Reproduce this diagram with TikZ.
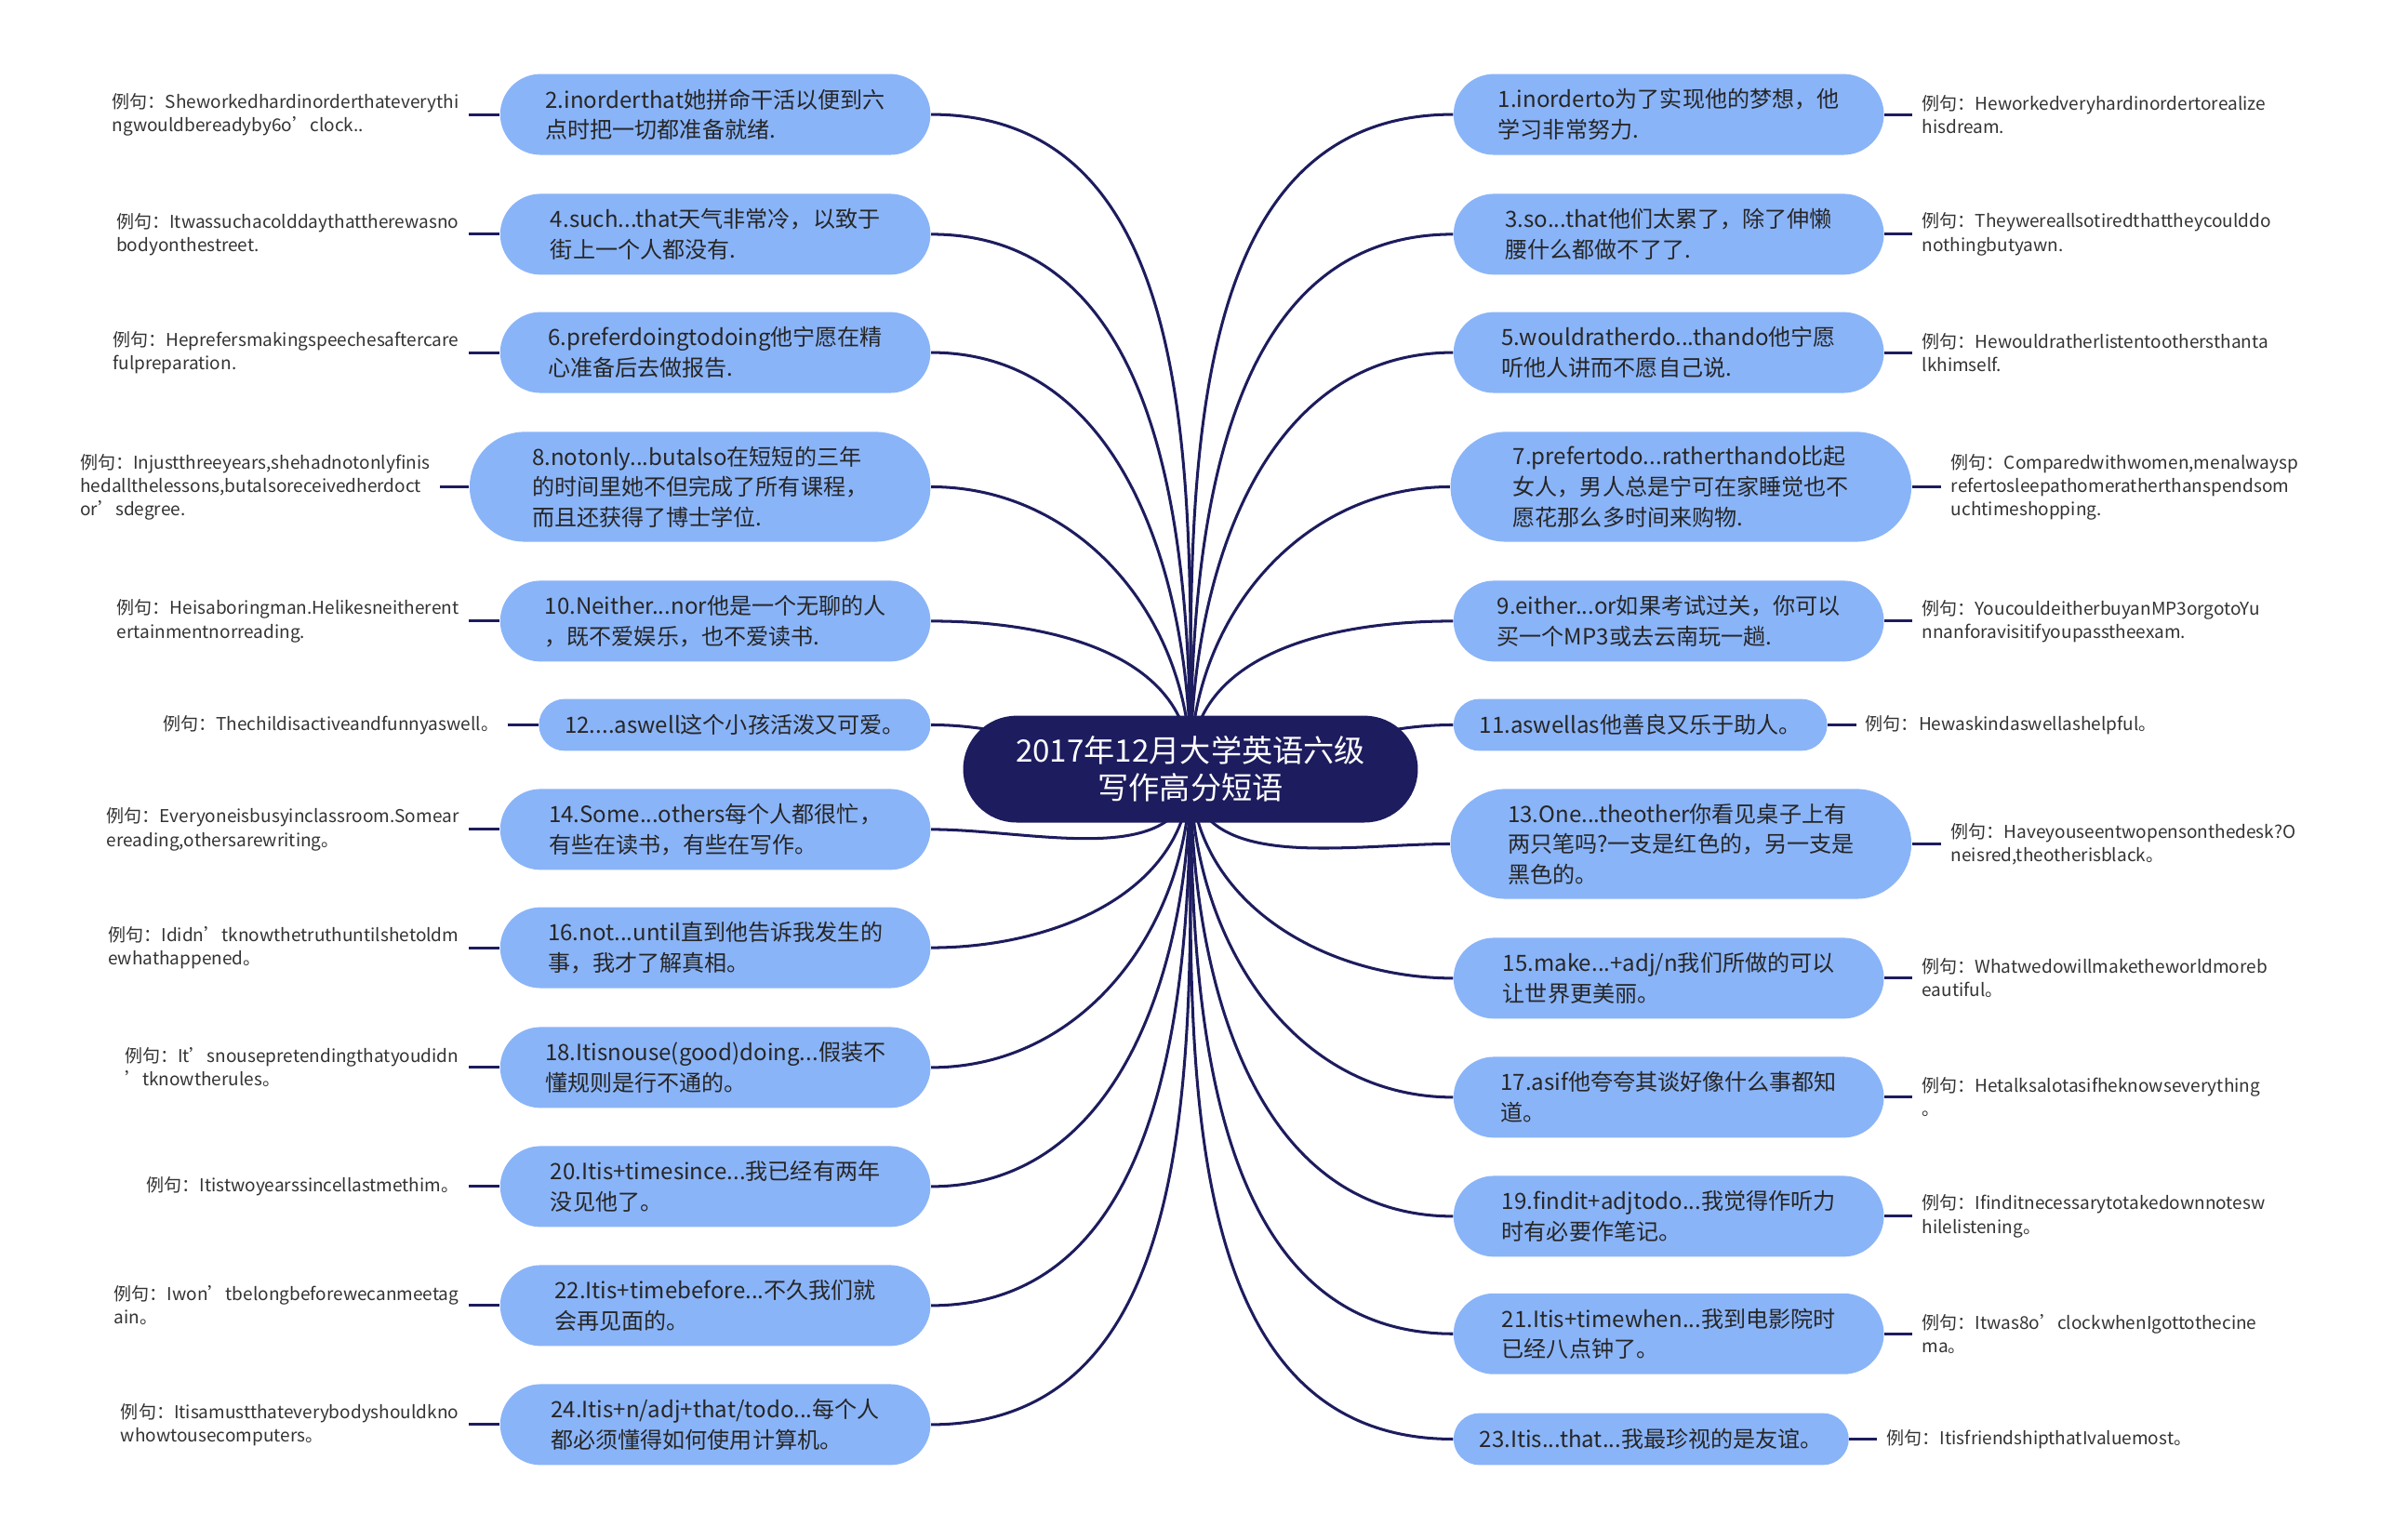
\documentclass[tikz,border=0pt]{standalone}
\usepackage{fontspec}
\setmainfont{Noto Sans CJK SC}
\usetikzlibrary{backgrounds}
\definecolor{rootnavy}{HTML}{1D1C5E}
\definecolor{topicblue}{HTML}{8AB4F8}
\definecolor{egtext}{HTML}{333333}
\begin{document}
\begin{tikzpicture}[x=0.02cm, y=-0.02cm,
        root/.style={fill=rootnavy, text=white, align=center, minimum width=5.96cm, minimum height=1.4cm, rounded corners=0.7cm, font=\fontsize{11.5}{14}\selectfont},
        topic/.style={fill=topicblue, text=black!85, align=left, minimum width=5.64cm, minimum height=1.06cm, rounded corners=0.53cm, inner xsep=0.3cm, inner ysep=0.05cm, font=\fontsize{8.35}{11.3}\selectfont},
        topicbig/.style={topic, minimum width=6.04cm, minimum height=1.44cm, rounded corners=0.72cm},
        topicone/.style={topic, minimum width=0pt, minimum height=0.68cm, rounded corners=0.34cm, inner xsep=0.34cm},
        eg/.style={text=egtext, align=left, inner xsep=0.12cm, font=\fontsize{6.6}{8.7}\selectfont},
        link/.style={draw=rootnavy, line width=1.05pt}]
        \useasboundingbox (0,0) rectangle (1560,1009.1);

        \node[root] (root) at (780,504) {2017年12月大学英语六级\\写作高分短语};

        \node[topic, anchor=east] (n2) at (610,75) {2.inorderthat她拼命干活以便到六\\点时把一切都准备就绪.};
        \node[topic, anchor=east] (n4) at (610,153.5) {4.such...that天气非常冷，以致于\\街上一个人都没有.};
        \node[topic, anchor=east] (n6) at (610,231) {6.preferdoingtodoing他宁愿在精\\心准备后去做报告.};
        \node[topicbig, anchor=east] (n8) at (610,319) {8.notonly...butalso在短短的三年\\的时间里她不但完成了所有课程，\\而且还获得了博士学位.};
        \node[topic, anchor=east] (n10) at (610,407) {10.Neither...nor他是一个无聊的人\\，既不爱娱乐，也不爱读书.};
        \node[topicone, anchor=east] (n12) at (610,475) {12....aswell这个小孩活泼又可爱。};
        \node[topic, anchor=east] (n14) at (610,543.5) {14.Some...others每个人都很忙，\\有些在读书，有些在写作。};
        \node[topic, anchor=east] (n16) at (610,621) {16.not...until直到他告诉我发生的\\事，我才了解真相。};
        \node[topic, anchor=east] (n18) at (610,699.5) {18.Itisnouse(good)doing...假装不\\懂规则是行不通的。};
        \node[topic, anchor=east] (n20) at (610,777.5) {20.Itis+timesince...我已经有两年\\没见他了。};
        \node[topic, anchor=east] (n22) at (610,855.5) {22.Itis+timebefore...不久我们就\\会再见面的。};
        \node[topic, anchor=east] (n24) at (610,933.5) {24.Itis+n/adj+that/todo...每个人\\都必须懂得如何使用计算机。};

        \node[topic, anchor=west] (n1) at (952,75) {1.inorderto为了实现他的梦想，他\\学习非常努力.};
        \node[topic, anchor=west] (n3) at (952,153.5) {3.so...that他们太累了，除了伸懒\\腰什么都做不了了.};
        \node[topic, anchor=west] (n5) at (952,231) {5.wouldratherdo...thando他宁愿\\听他人讲而不愿自己说.};
        \node[topicbig, anchor=west] (n7) at (950,319) {7.prefertodo...ratherthando比起\\女人，男人总是宁可在家睡觉也不\\愿花那么多时间来购物.};
        \node[topic, anchor=west] (n9) at (952,407) {9.either...or如果考试过关，你可以\\买一个MP3或去云南玩一趟.};
        \node[topicone, anchor=west] (n11) at (952,475) {11.aswellas他善良又乐于助人。};
        \node[topicbig, anchor=west] (n13) at (950,553) {13.One...theother你看见桌子上有\\两只笔吗?一支是红色的，另一支是\\黑色的。};
        \node[topic, anchor=west] (n15) at (952,641) {15.make...+adj/n我们所做的可以\\让世界更美丽。};
        \node[topic, anchor=west] (n17) at (952,719) {17.asif他夸夸其谈好像什么事都知\\道。};
        \node[topic, anchor=west] (n19) at (952,797) {19.findit+adjtodo...我觉得作听力\\时有必要作笔记。};
        \node[topic, anchor=west] (n21) at (952,874) {21.Itis+timewhen...我到电影院时\\已经八点钟了。};
        \node[topicone, anchor=west] (n23) at (952,943) {23.Itis...that...我最珍视的是友谊。};

        \node[eg, anchor=east] (e2) at (307,75) {例句：Sheworkedhardinorderthateverythi\\ngwouldbereadyby6o’clock..};
        \node[eg, anchor=east] (e4) at (307,153.5) {例句：Itwassuchacolddaythattherewasno\\bodyonthestreet.};
        \node[eg, anchor=east] (e6) at (307,231) {例句：Heprefersmakingspeechesaftercare\\fulpreparation.};
        \node[eg, anchor=east] (e8) at (288,319) {例句：Injustthreeyears,shehadnotonlyfinis\\hedallthelessons,butalsoreceivedherdoct\\or’sdegree.};
        \node[eg, anchor=east] (e10) at (307,407) {例句：Heisaboringman.Helikesneitherent\\ertainmentnorreading.};
        \node[eg, anchor=east] (e12) at (333,475) {例句：Thechildisactiveandfunnyaswell。};
        \node[eg, anchor=east] (e14) at (307,543.5) {例句：Everyoneisbusyinclassroom.Somear\\ereading,othersarewriting。};
        \node[eg, anchor=east] (e16) at (307,621) {例句：Ididn’tknowthetruthuntilshetoldm\\ewhathappened。};
        \node[eg, anchor=east] (e18) at (307,699.5) {例句：It’snousepretendingthatyoudidn\\’tknowtherules。};
        \node[eg, anchor=east] (e20) at (307,777.5) {例句：Itistwoyearssincellastmethim。};
        \node[eg, anchor=east] (e22) at (307,855.5) {例句：Iwon’tbelongbeforewecanmeetag\\ain。};
        \node[eg, anchor=east] (e24) at (307,933.5) {例句：Itisamustthateverybodyshouldkno\\whowtousecomputers。};

        \node[eg, anchor=west] (e1) at (1253,75) {例句：Heworkedveryhardinordertorealize\\hisdream.};
        \node[eg, anchor=west] (e3) at (1253,153.5) {例句：Theywereallsotiredthattheycoulddo\\nothingbutyawn.};
        \node[eg, anchor=west] (e5) at (1253,231) {例句：Hewouldratherlistentoothersthanta\\lkhimself.};
        \node[eg, anchor=west] (e7) at (1272,319) {例句：Comparedwithwomen,menalwaysp\\refertosleepathomeratherthanspendsom\\uchtimeshopping.};
        \node[eg, anchor=west] (e9) at (1253,407) {例句：YoucouldeitherbuyanMP3orgotoYu\\nnanforavisitifyoupasstheexam.};
        \node[eg, anchor=west] (e11) at (1216,475) {例句：Hewaskindaswellashelpful。};
        \node[eg, anchor=west] (e13) at (1272,553) {例句：Haveyouseentwopensonthedesk?O\\neisred,theotherisblack。};
        \node[eg, anchor=west] (e15) at (1253,641) {例句：Whatwedowillmaketheworldmoreb\\eautiful。};
        \node[eg, anchor=west] (e17) at (1253,719) {例句：Hetalksalotasifheknowseverything\\。};
        \node[eg, anchor=west] (e19) at (1253,797) {例句：Ifinditnecessarytotakedownnotesw\\hilelistening。};
        \node[eg, anchor=west] (e21) at (1253,874) {例句：Itwas8o’clockwhenIgottothecine\\ma。};
        \node[eg, anchor=west] (e23) at (1230,943) {例句：ItisfriendshipthatIvaluemost。};

        \begin{scope}[on background layer]
            \draw[link] (root.center) to [out=90, in=0] (n2.east);
            \draw[link] (root.center) to [out=90, in=0] (n4.east);
            \draw[link] (root.center) to [out=90, in=0] (n6.east);
            \draw[link] (root.center) to [out=90, in=0] (n8.east);
            \draw[link] (root.center) to [out=90, in=0] (n10.east);
            \draw[link] (root.center) to [out=180, in=0] (n12.east);
            \draw[link] (root.center) to [out=-90, in=0] (n14.east);
            \draw[link] (root.center) to [out=-90, in=0] (n16.east);
            \draw[link] (root.center) to [out=-90, in=0] (n18.east);
            \draw[link] (root.center) to [out=-90, in=0] (n20.east);
            \draw[link] (root.center) to [out=-90, in=0] (n22.east);
            \draw[link] (root.center) to [out=-90, in=0] (n24.east);

            \draw[link] (root.center) to [out=90, in=180] (n1.west);
            \draw[link] (root.center) to [out=90, in=180] (n3.west);
            \draw[link] (root.center) to [out=90, in=180] (n5.west);
            \draw[link] (root.center) to [out=90, in=180] (n7.west);
            \draw[link] (root.center) to [out=90, in=180] (n9.west);
            \draw[link] (root.center) to [out=0, in=180] (n11.west);
            \draw[link] (root.center) to [out=-90, in=180] (n13.west);
            \draw[link] (root.center) to [out=-90, in=180] (n15.west);
            \draw[link] (root.center) to [out=-90, in=180] (n17.west);
            \draw[link] (root.center) to [out=-90, in=180] (n19.west);
            \draw[link] (root.center) to [out=-90, in=180] (n21.west);
            \draw[link] (root.center) to [out=-90, in=180] (n23.west);
        \end{scope}

        \draw[link] (n2.west) -- (e2.east);
        \draw[link] (n4.west) -- (e4.east);
        \draw[link] (n6.west) -- (e6.east);
        \draw[link] (n8.west) -- (e8.east);
        \draw[link] (n10.west) -- (e10.east);
        \draw[link] (n12.west) -- (e12.east);
        \draw[link] (n14.west) -- (e14.east);
        \draw[link] (n16.west) -- (e16.east);
        \draw[link] (n18.west) -- (e18.east);
        \draw[link] (n20.west) -- (e20.east);
        \draw[link] (n22.west) -- (e22.east);
        \draw[link] (n24.west) -- (e24.east);

        \draw[link] (n1.east) -- (e1.west);
        \draw[link] (n3.east) -- (e3.west);
        \draw[link] (n5.east) -- (e5.west);
        \draw[link] (n7.east) -- (e7.west);
        \draw[link] (n9.east) -- (e9.west);
        \draw[link] (n11.east) -- (e11.west);
        \draw[link] (n13.east) -- (e13.west);
        \draw[link] (n15.east) -- (e15.west);
        \draw[link] (n17.east) -- (e17.west);
        \draw[link] (n19.east) -- (e19.west);
        \draw[link] (n21.east) -- (e21.west);
        \draw[link] (n23.east) -- (e23.west);
    \end{tikzpicture}
\end{document}
